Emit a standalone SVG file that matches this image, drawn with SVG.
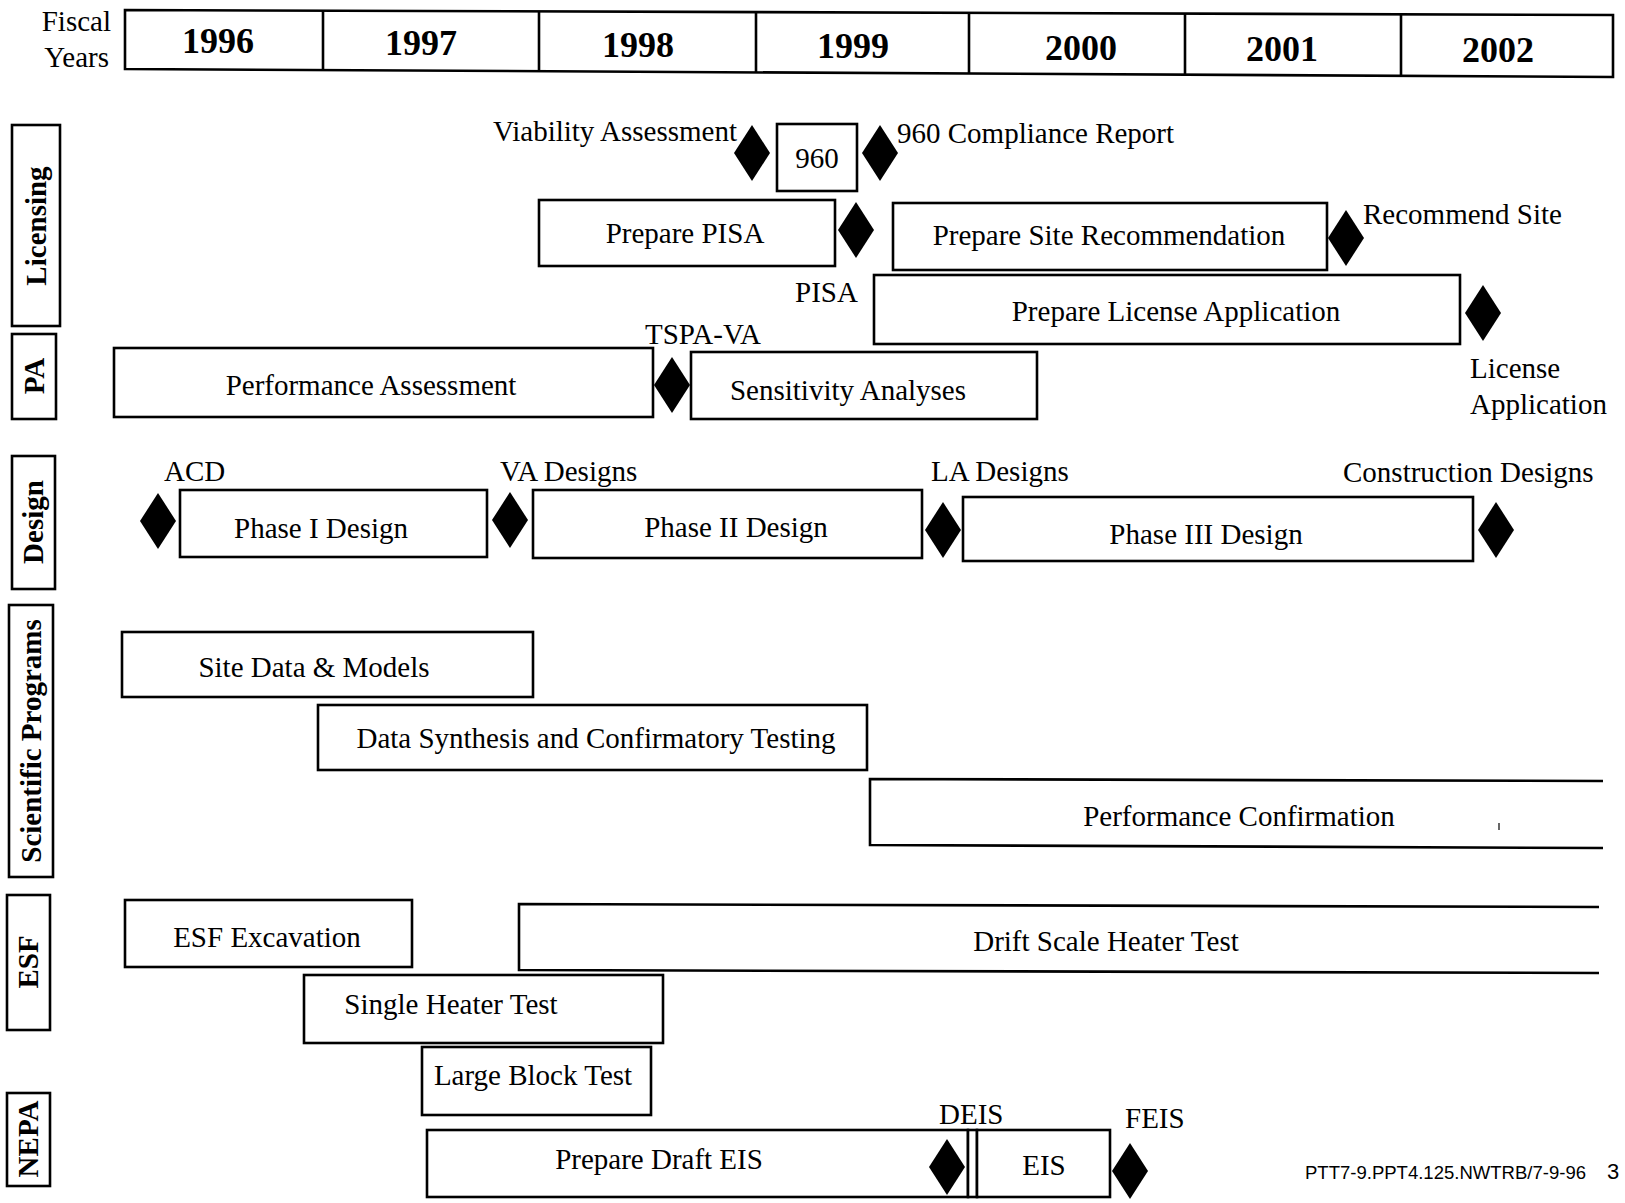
<svg xmlns="http://www.w3.org/2000/svg" width="1625" height="1203" viewBox="0 0 1625 1203">
<defs>
<style>
.b{fill:#fff;stroke:#000;stroke-width:2.6}
.o{fill:none;stroke:#000;stroke-width:2.6}
.t{font-family:"Liberation Serif","Times New Roman",serif;font-size:29px;fill:#000}
.m{text-anchor:middle}
.y{font-family:"Liberation Serif","Times New Roman",serif;font-size:36px;font-weight:bold;text-anchor:middle;fill:#000}
.v{font-family:"Liberation Serif","Times New Roman",serif;font-size:29px;font-weight:bold;text-anchor:middle;fill:#000}
.d{fill:#000}
</style>
<polygon id="dia" points="0,-28 18,0 0,28 -18,0"/>
</defs>
<rect width="1625" height="1203" fill="#fff"/>

<g id="header">
<text class="t" x="111" y="31" text-anchor="end">Fiscal</text>
<text class="t" x="109" y="67" text-anchor="end">Years</text>
<polygon class="b" points="125,10 1613,15 1613,77 125,69"/>
<line class="o" x1="323" y1="11" x2="323" y2="71"/>
<line class="o" x1="539" y1="12" x2="539" y2="72"/>
<line class="o" x1="756" y1="12" x2="756" y2="73"/>
<line class="o" x1="969" y1="13" x2="969" y2="74"/>
<line class="o" x1="1185" y1="14" x2="1185" y2="75"/>
<line class="o" x1="1401" y1="14" x2="1401" y2="76"/>
<text class="y" x="218" y="53">1996</text>
<text class="y" x="421" y="55">1997</text>
<text class="y" x="638" y="57">1998</text>
<text class="y" x="853" y="58">1999</text>
<text class="y" x="1081" y="60">2000</text>
<text class="y" x="1282" y="61">2001</text>
<text class="y" x="1498" y="62">2002</text>
</g>

<g id="categories">
<g id="cat-licensing"><rect class="b" x="12" y="125" width="48" height="201"/><text class="v" x="36" y="236" transform="rotate(-90 36 226)">Licensing</text></g>
<g id="cat-pa"><rect class="b" x="12" y="334" width="44" height="85"/><text class="v" x="34" y="386" transform="rotate(-90 34 376)">PA</text></g>
<g id="cat-design"><rect class="b" x="12" y="456" width="43" height="133"/><text class="v" x="33" y="532" transform="rotate(-90 33 522)">Design</text></g>
<g id="cat-sci"><rect class="b" x="9" y="605" width="44" height="272"/><text class="v" x="31" y="751" transform="rotate(-90 31 741)">Scientific Programs</text></g>
<g id="cat-esf"><rect class="b" x="7" y="895" width="43" height="135"/><text class="v" x="28" y="972" transform="rotate(-90 28 962)">ESF</text></g>
<g id="cat-nepa"><rect class="b" x="7" y="1093" width="43" height="93"/><text class="v" x="28" y="1149" transform="rotate(-90 28 1139)">NEPA</text></g>
</g>

<g id="licensing">
<g id="ms-viability"><use href="#dia" class="d" x="752" y="153"/><text class="t" x="493" y="141">Viability Assessment</text></g>
<g id="box-960"><rect class="b" x="777" y="124" width="80" height="67"/><text class="t m" x="817" y="168">960</text></g>
<g id="ms-960"><use href="#dia" class="d" x="880" y="153"/><text class="t" x="897" y="143">960 Compliance Report</text></g>
<g id="box-pisa"><rect class="b" x="539" y="200" width="296" height="66"/><text class="t m" x="685" y="243">Prepare PISA</text></g>
<g id="ms-pisa"><use href="#dia" class="d" x="856" y="230"/><text class="t" x="795" y="302">PISA</text></g>
<g id="box-sr"><rect class="b" x="893" y="203" width="434" height="67"/><text class="t m" x="1109" y="245">Prepare Site Recommendation</text></g>
<g id="ms-sr"><use href="#dia" class="d" x="1346" y="238"/><text class="t" x="1363" y="224">Recommend Site</text></g>
<g id="box-la"><rect class="b" x="874" y="275" width="586" height="69"/><text class="t m" x="1176" y="321">Prepare License Application</text></g>
<g id="ms-la"><use href="#dia" class="d" x="1483" y="313"/><text class="t" x="1470" y="378">License</text><text class="t" x="1470" y="414">Application</text></g>
</g>

<g id="pa">
<g id="box-pa"><rect class="b" x="114" y="348" width="539" height="69"/><text class="t m" x="371" y="395">Performance Assessment</text></g>
<g id="ms-tspa"><use href="#dia" class="d" x="672" y="385"/><text class="t" x="645" y="344">TSPA-VA</text></g>
<g id="box-sens"><rect class="b" x="691" y="352" width="346" height="67"/><text class="t m" x="848" y="400">Sensitivity Analyses</text></g>
</g>

<g id="design">
<g id="ms-acd"><use href="#dia" class="d" x="158" y="521"/><text class="t" x="164" y="481">ACD</text></g>
<g id="box-ph1"><rect class="b" x="180" y="490" width="307" height="67"/><text class="t m" x="321" y="538">Phase I Design</text></g>
<g id="ms-va"><use href="#dia" class="d" x="510" y="520"/><text class="t" x="500" y="481">VA Designs</text></g>
<g id="box-ph2"><rect class="b" x="533" y="490" width="389" height="68"/><text class="t m" x="736" y="537">Phase II Design</text></g>
<g id="ms-lad"><use href="#dia" class="d" x="943" y="530"/><text class="t" x="931" y="481">LA Designs</text></g>
<g id="box-ph3"><rect class="b" x="963" y="497" width="510" height="64"/><text class="t m" x="1206" y="544">Phase III Design</text></g>
<g id="ms-cd"><use href="#dia" class="d" x="1496" y="530"/><text class="t" x="1343" y="482">Construction Designs</text></g>
</g>

<g id="science">
<g id="box-site"><rect class="b" x="122" y="632" width="411" height="65"/><text class="t m" x="314" y="677">Site Data &amp; Models</text></g>
<g id="box-synth"><rect class="b" x="318" y="705" width="549" height="65"/><text class="t m" x="596" y="748">Data Synthesis and Confirmatory Testing</text></g>
<g id="box-pc"><path class="o" d="M1603,781 L870,779 L870,845 L1603,848"/><text class="t m" x="1239" y="826">Performance Confirmation</text><line x1="1499" y1="823" x2="1499" y2="830" stroke="#000" stroke-width="1.2"/></g>
</g>

<g id="esf">
<g id="box-exc"><rect class="b" x="125" y="900" width="287" height="67"/><text class="t m" x="267" y="947">ESF Excavation</text></g>
<g id="box-drift"><path class="o" d="M1599,907 L519,904 L519,970 L1599,973"/><text class="t m" x="1106" y="951">Drift Scale Heater Test</text></g>
<g id="box-single"><rect class="b" x="304" y="975" width="359" height="68"/><text class="t m" x="451" y="1014">Single Heater Test</text></g>
<g id="box-lbt"><rect class="b" x="422" y="1047" width="229" height="68"/><text class="t m" x="533" y="1085">Large Block Test</text></g>
</g>

<g id="nepa">
<g id="box-deis"><rect class="b" x="427" y="1130" width="541" height="67"/><text class="t m" x="659" y="1169">Prepare Draft EIS</text></g>
<g id="ms-deis"><use href="#dia" class="d" x="947" y="1167"/><text class="t" x="939" y="1124">DEIS</text></g>
<rect class="b" x="968" y="1130" width="9" height="67"/>
<g id="box-eis"><rect class="b" x="977" y="1130" width="133" height="67"/><text class="t m" x="1044" y="1175">EIS</text></g>
<g id="ms-feis"><use href="#dia" class="d" x="1130" y="1171"/><text class="t" x="1125" y="1128">FEIS</text></g>
</g>

<g id="connectors"/>

<g id="footer">
<text x="1305" y="1179" font-family="'Liberation Sans',Arial,sans-serif" font-size="18" textLength="281" lengthAdjust="spacingAndGlyphs">PTT7-9.PPT4.125.NWTRB/7-9-96</text>
<text x="1607" y="1179" font-family="'Liberation Sans',Arial,sans-serif" font-size="22">3</text>
</g>
</svg>
